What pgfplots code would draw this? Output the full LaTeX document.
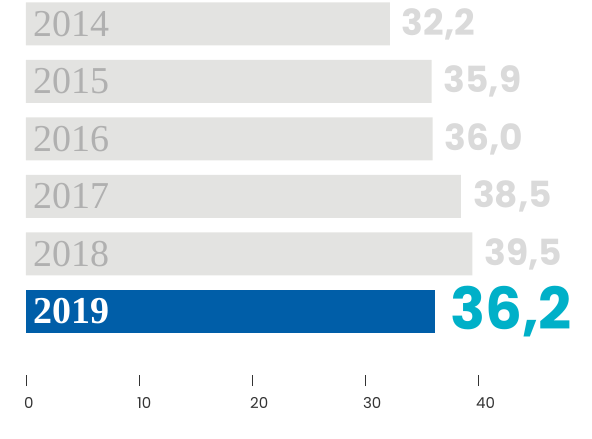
\documentclass[border=0pt]{standalone}
\usepackage{fontspec}
\setmainfont{Poppins}
\newfontfamily\yearfont{Liberation Serif}
\usepackage{pgfplots}
\pgfplotsset{compat=1.18}
\definecolor{bargray}{HTML}{E3E3E1}
\definecolor{yeargray}{HTML}{B0B0B0}
\definecolor{valgray}{HTML}{DADADA}
\definecolor{barblue}{HTML}{005EA8}
\definecolor{valcyan}{HTML}{00B0C8}
\definecolor{tickgray}{HTML}{333333}
\begin{document}
\begin{tikzpicture}
\begin{axis}[
  scale only axis, width=592pt, height=386pt,
  xmin=-2.3, xmax=50.1,
  ymin=-0.417, ymax=6.296, y dir=reverse,
  axis line style={draw=none},
  clip=false,
  xtick={0,10,20,30,40}, xtick pos=bottom, xtick align=inside,
  major tick length=11pt,
  xtick style={color=tickgray, line width=0.8pt},
  xticklabel style={font=\fontsize{15}{15}\selectfont, text=tickgray,
    anchor=north west, inner sep=0pt, xshift=-2pt, yshift=-11pt},
  ytick=\empty,
  /pgf/number format/assume math mode=true,
]
% bars
\addplot[xbar, bar width=43pt, bar shift=0pt, fill=bargray, draw=none,
  point meta=x,
  nodes near coords={\pgfmathprintnumber[fixed,fixed zerofill,precision=1,use comma]{\pgfplotspointmeta}},
  every node near coord/.append style={anchor=west, inner sep=0pt, xshift=12pt,
    text=valgray, font=\bfseries\fontsize{36}{36}\selectfont}]
  coordinates {(32.2,0) (35.9,1) (36.0,2) (38.5,3) (39.5,4)};
\addplot[xbar, bar width=43pt, bar shift=0pt, fill=barblue, draw=none,
  point meta=x,
  nodes near coords={\pgfmathprintnumber[fixed,fixed zerofill,precision=1,use comma]{\pgfplotspointmeta}},
  every node near coord/.append style={anchor=west, inner sep=0pt, xshift=15pt,
    text=valcyan, font=\bfseries\fontsize{58}{58}\selectfont}]
  coordinates {(36.2,5)};
% year labels inside the bars
\addplot[draw=none, mark=none, point meta=explicit symbolic,
  nodes near coords,
  every node near coord/.append style={anchor=west, inner sep=0pt, xshift=7pt,
    text=yeargray, font=\yearfont\fontsize{38}{38}\selectfont}]
  coordinates {(0,0) [2014] (0,1) [2015] (0,2) [2016] (0,3) [2017] (0,4) [2018]};
\addplot[draw=none, mark=none, point meta=explicit symbolic,
  nodes near coords,
  every node near coord/.append style={anchor=west, inner sep=0pt, xshift=7pt,
    text=white, font=\yearfont\bfseries\fontsize{38}{38}\selectfont}]
  coordinates {(0,5) [2019]};
\path (rel axis cs:0,0) ++(0,-29pt) (rel axis cs:0,1) ++(0,-29pt);
\end{axis}
\end{tikzpicture}
\end{document}
